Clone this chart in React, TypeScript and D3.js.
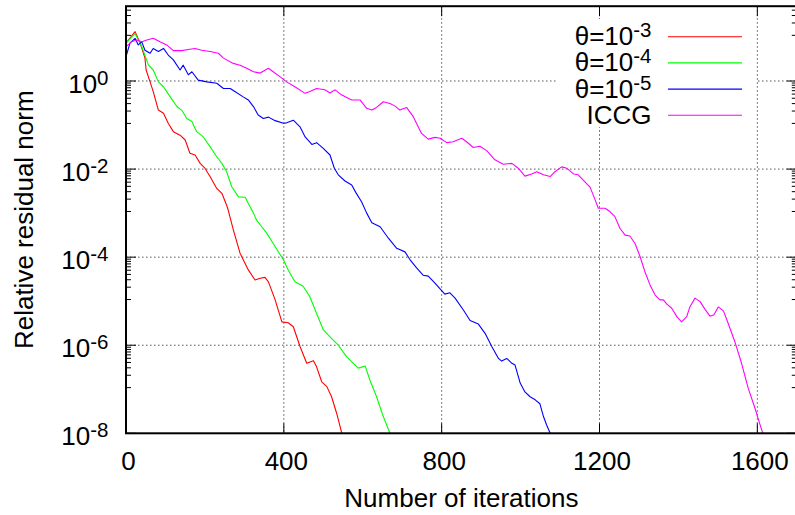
import React from 'react';
import * as d3 from 'd3';

// x: iteration number, y: log10 of relative residual norm
const theta3Log: [number, number][] = [[0,0.86],[23,1.12],[36,0.86],[48,0.52],[51,0.25],[61,-0.02],[69,-0.24],[82,-0.66],[95,-0.73],[107,-0.96],[120,-1.15],[137,-1.23],[150,-1.34],[162,-1.64],[175,-1.68],[188,-1.87],[200,-1.98],[213,-2.17],[230,-2.44],[243,-2.55],[255,-2.82],[259,-2.93],[272,-3.38],[289,-3.91],[310,-4.29],[327,-4.52],[340,-4.48],[352,-4.46],[361,-4.56],[378,-4.97],[395,-5.47],[411,-5.49],[424,-5.58],[441,-6.03],[458,-6.41],[475,-6.35],[483,-6.49],[496,-6.83],[509,-6.94],[521,-7.17],[534,-7.55],[547,-8.0]];
const theta4Log: [number, number][] = [[0,0.86],[23,1.08],[40,0.78],[57,0.36],[69,0.25],[82,-0.02],[95,-0.13],[112,-0.36],[129,-0.58],[141,-0.66],[154,-0.85],[167,-0.92],[179,-1.15],[196,-1.27],[213,-1.49],[230,-1.72],[243,-1.87],[255,-2.06],[268,-2.40],[285,-2.63],[302,-2.64],[314,-2.85],[323,-3.00],[331,-3.16],[344,-3.31],[357,-3.46],[373,-3.69],[399,-4.06],[411,-4.29],[428,-4.56],[449,-4.66],[466,-4.90],[483,-5.28],[500,-5.65],[517,-5.81],[538,-6.00],[559,-6.26],[576,-6.41],[589,-6.52],[606,-6.47],[618,-6.79],[635,-7.17],[652,-7.62],[669,-8.0]];
const theta5Log: [number, number][] = [[0,0.55],[10,0.86],[23,0.97],[31,0.82],[40,0.89],[48,0.70],[61,0.63],[69,0.74],[82,0.67],[95,0.74],[107,0.59],[120,0.48],[137,0.25],[145,0.36],[158,0.14],[167,0.21],[183,0.02],[205,-0.02],[230,-0.05],[247,-0.17],[264,-0.17],[276,-0.24],[297,-0.36],[310,-0.43],[323,-0.58],[335,-0.77],[348,-0.85],[361,-0.82],[378,-0.90],[399,-0.96],[407,-0.95],[424,-0.89],[441,-1.04],[454,-1.27],[471,-1.44],[483,-1.40],[500,-1.53],[517,-1.68],[528,-1.98],[538,-2.13],[555,-2.27],[572,-2.36],[583,-2.54],[597,-2.74],[610,-3.00],[623,-3.22],[644,-3.31],[665,-3.57],[686,-3.80],[707,-3.88],[720,-4.06],[737,-4.25],[753,-4.41],[766,-4.43],[783,-4.59],[800,-4.76],[808,-4.84],[821,-4.81],[834,-4.93],[855,-5.20],[872,-5.44],[893,-5.52],[910,-5.73],[927,-6.03],[944,-6.30],[952,-6.36],[965,-6.30],[978,-6.41],[986,-6.45],[999,-6.86],[1011,-7.06],[1024,-7.17],[1037,-7.24],[1049,-7.33],[1058,-7.62],[1066,-7.81],[1075,-8.0]];
const iccgLog: [number, number][] = [[0,0.78],[14,0.89],[27,0.93],[40,0.89],[53,0.93],[69,0.97],[86,0.89],[103,0.82],[120,0.69],[141,0.69],[162,0.72],[175,0.74],[192,0.70],[213,0.67],[234,0.63],[247,0.52],[272,0.40],[289,0.36],[306,0.29],[323,0.21],[340,0.18],[361,0.29],[373,0.21],[390,0.10],[407,-0.02],[428,-0.13],[454,-0.28],[466,-0.24],[483,-0.17],[504,-0.20],[517,-0.27],[530,-0.20],[547,-0.32],[572,-0.43],[593,-0.43],[610,-0.62],[623,-0.66],[635,-0.60],[652,-0.47],[669,-0.51],[682,-0.57],[694,-0.66],[711,-0.60],[728,-0.81],[749,-1.19],[766,-1.32],[783,-1.28],[796,-1.30],[813,-1.40],[829,-1.38],[851,-1.30],[863,-1.38],[880,-1.51],[897,-1.48],[914,-1.58],[935,-1.79],[956,-1.89],[978,-1.87],[994,-1.98],[1011,-2.16],[1028,-2.11],[1041,-2.06],[1058,-2.13],[1075,-2.17],[1087,-2.06],[1104,-1.95],[1117,-1.98],[1134,-2.11],[1146,-2.13],[1163,-2.29],[1176,-2.41],[1189,-2.70],[1197,-2.89],[1214,-2.89],[1227,-2.97],[1239,-3.08],[1252,-3.35],[1265,-3.50],[1277,-3.52],[1290,-3.69],[1303,-3.99],[1315,-4.33],[1328,-4.63],[1341,-4.86],[1353,-4.97],[1362,-4.97],[1370,-5.06],[1383,-5.16],[1396,-5.35],[1408,-5.47],[1421,-5.35],[1429,-5.13],[1442,-4.93],[1455,-5.01],[1467,-5.18],[1480,-5.34],[1490,-5.31],[1501,-5.13],[1514,-5.22],[1526,-5.50],[1543,-5.92],[1560,-6.41],[1577,-6.98],[1594,-7.43],[1607,-7.81],[1614,-8.0]];

const seriesData = [theta3Log, theta4Log, theta5Log, iccgLog];
const seriesColors = ['#ff0000', '#00ff00', '#0000ff', '#ff00ff'];
const legendBase = ['θ=10', 'θ=10', 'θ=10', 'ICCG'];
const legendExp = ['-3', '-4', '-5', ''];

const xTicks = [0, 400, 800, 1200, 1600];
const yTickExps = [0, -2, -4, -6, -8];
const xDomain = [0, 1700];
const yDomain = [1e-8, 50];

const FONT = "'Liberation Sans', Arial, Helvetica, sans-serif";

export default function App() {
  const left = 126, right = 796.8, top = 6.2, bottom = 433.3;
  const x = d3.scaleLinear().domain(xDomain).range([left, right]);
  const y = d3.scaleLog().domain(yDomain).range([bottom, top]);

  const line = d3.line<[number, number]>()
    .x(d => x(d[0]))
    .y(d => y(Math.pow(10, d[1])));

  // gnuplot-style minor ticks between majors spaced by two decades
  const minors: number[] = [];
  for (let n = -4; n <= 0; n++) {
    const a = Math.pow(10, 2 * n), b = Math.pow(10, 2 * n + 2);
    for (let k = 1; k <= 9; k++) {
      const v = a + (k * (b - a)) / 10;
      if (v > yDomain[0] && v < yDomain[1]) minors.push(v);
    }
  }

  const gridColor = '#555';
  const dash = '1.5,2.5';
  const legend = { x0: 556, x1: 756, y0: 19, y1: 127 };
  const rowY = (i: number) => 36.7 + i * 26.2;

  return (
    <svg width={795} height={515} style={{ position: 'absolute', left: 0, top: 0, background: '#fff' }}
      fontFamily={FONT}>
      <defs>
        <clipPath id="plotclip">
          <rect x={left} y={top} width={right - left} height={bottom - top} />
        </clipPath>
      </defs>
      <rect x={0} y={0} width={795} height={515} fill="#fff" />
      {/* grid */}
      {xTicks.filter(t => t > 0).map(t => (
        <line key={'gx' + t} x1={x(t)} x2={x(t)} y1={top} y2={bottom} stroke={gridColor} strokeWidth={1} strokeDasharray={dash} />
      ))}
      {yTickExps.filter(e => e > -8).map(e => (
        <line key={'gy' + e} x1={left} x2={right} y1={y(Math.pow(10, e))} y2={y(Math.pow(10, e))} stroke={gridColor} strokeWidth={1} strokeDasharray={dash} />
      ))}
      {/* legend background clears grid */}
      <rect x={legend.x0} y={legend.y0} width={legend.x1 - legend.x0} height={legend.y1 - legend.y0} fill="#fff" />
      {/* curves */}
      <g clipPath="url(#plotclip)">
        {seriesData.map((s, i) => (
          <path key={'s' + i} d={line(s) || ''} fill="none" stroke={seriesColors[i]} strokeWidth={1.1} strokeLinejoin="round" />
        ))}
      </g>
      {/* ticks */}
      {xTicks.map(t => (
        <g key={'tx' + t}>
          <line x1={x(t)} x2={x(t)} y1={bottom} y2={bottom - 10} stroke="#000" strokeWidth={1} />
          <line x1={x(t)} x2={x(t)} y1={top} y2={top + 10} stroke="#000" strokeWidth={1} />
          <text x={x(t) + 2.5} y={469.5} fontSize={26} textAnchor="middle" fill="#000">{t}</text>
        </g>
      ))}
      {yTickExps.map(e => {
        const py = y(Math.pow(10, e));
        return (
          <g key={'ty' + e}>
            <line x1={left} x2={left + 10} y1={py} y2={py} stroke="#000" strokeWidth={1} />
            <line x1={right} x2={right - 10} y1={py} y2={py} stroke="#000" strokeWidth={1} />
            <text x={108.5} y={py + 11.5} fontSize={26} textAnchor="end" fill="#000">
              10<tspan fontSize={20.5} dy={-7.5}>{e}</tspan>
            </text>
          </g>
        );
      })}
      {minors.map((v, i) => (
        <g key={'mn' + i}>
          <line x1={left} x2={left + 5} y1={y(v)} y2={y(v)} stroke="#000" strokeWidth={1} />
          <line x1={right} x2={right - 5} y1={y(v)} y2={y(v)} stroke="#000" strokeWidth={1} />
        </g>
      ))}
      {/* border */}
      <rect x={left} y={top} width={right - left} height={bottom - top} fill="none" stroke="#000" strokeWidth={2} />
      {/* legend */}
      {legendBase.map((lb, i) => (
        <g key={'lg' + i}>
          <text x={651.5} y={rowY(i) + 8.5} fontSize={26} textAnchor="end" fill="#000">
            {lb}{legendExp[i] ? <tspan fontSize={20.5} dy={-8}>{legendExp[i]}</tspan> : null}
          </text>
          <line x1={668} x2={742} y1={rowY(i)} y2={rowY(i)} stroke={seriesColors[i]} strokeWidth={1.1} />
        </g>
      ))}
      {/* axis titles */}
      <text x={(left + right) / 2} y={507} fontSize={26} textAnchor="middle" fill="#000">Number of iterations</text>
      <text transform={`translate(32.5, ${(top + bottom) / 2}) rotate(-90)`} fontSize={26} textAnchor="middle" fill="#000">Relative residual norm</text>
    </svg>
  );
}
